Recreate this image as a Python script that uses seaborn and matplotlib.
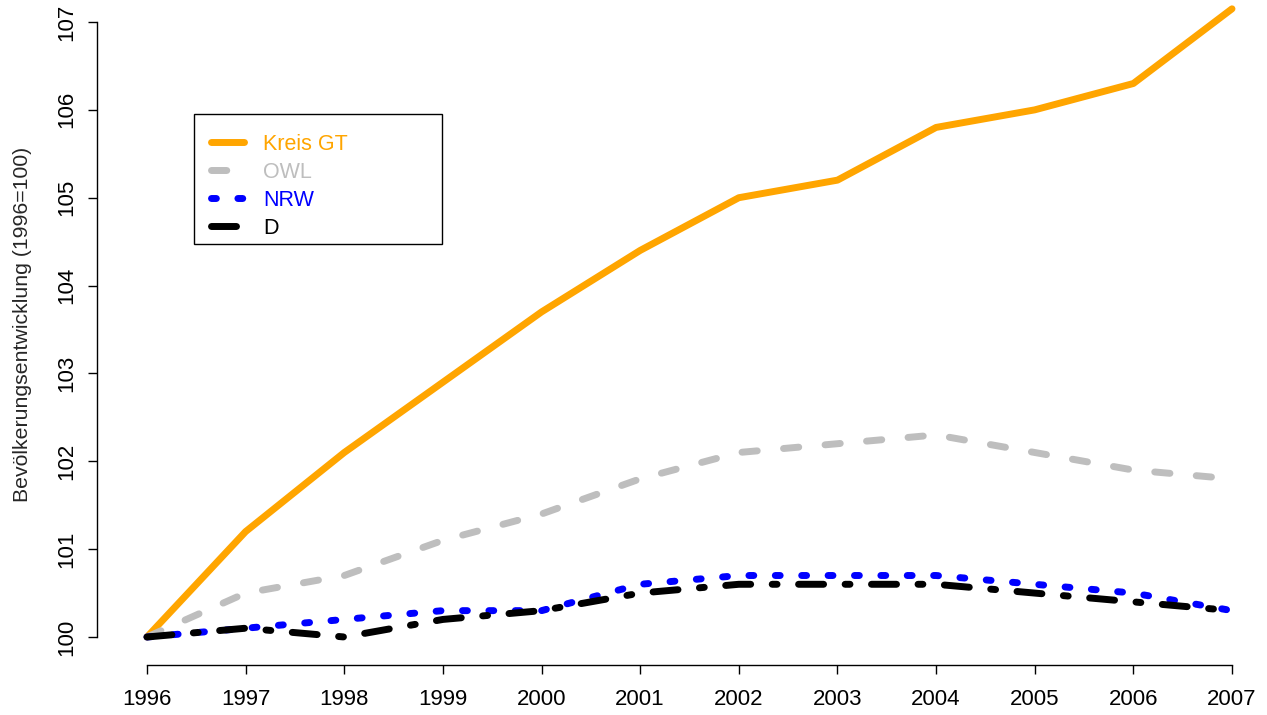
import matplotlib
matplotlib.use("Agg")
import matplotlib.pyplot as plt
from matplotlib.patches import Rectangle
import seaborn as sns
import pandas as pd

years = [1996, 1997, 1998, 1999, 2000, 2001, 2002, 2003, 2004, 2005, 2006, 2007]
kreis_gt = [100.0, 101.2, 102.1, 102.9, 103.7, 104.4, 105.0, 105.2, 105.8, 106.0, 106.3, 107.15]
owl = [100.0, 100.5, 100.7, 101.1, 101.4, 101.8, 102.1, 102.2, 102.3, 102.1, 101.9, 101.8]
nrw = [100.0, 100.1, 100.2, 100.3, 100.3, 100.6, 100.7, 100.7, 100.7, 100.6, 100.5, 100.3]
d = [100.0, 100.1, 100.0, 100.2, 100.3, 100.5, 100.6, 100.6, 100.6, 100.5, 100.4, 100.3]
series_names = ["Kreis GT", "OWL", "NRW", "D"]
y_ticks = [100, 101, 102, 103, 104, 105, 106, 107]
y_label = "Bevölkerungsentwicklung (1996=100)"

colors = {"Kreis GT": "#FFA500", "OWL": "#BEBEBE", "NRW": "#0000FF", "D": "#000000"}
dash_styles = {"Kreis GT": None, "OWL": (2.2, 3.8), "NRW": (0.7, 3.1), "D": (3.6, 3.1, 0.7, 3.1)}

sns.set_style("white")
plt.rcParams["font.family"] = ["Liberation Sans", "DejaVu Sans"]

W, H = 1267, 715
fig = plt.figure(figsize=(W / 100, H / 100), dpi=100)

# axes pixel box
ax_l, ax_r, ax_b, ax_t = 97, 1262, 665, 5
ax = fig.add_axes([ax_l / W, 1 - ax_b / H, (ax_r - ax_l) / W, (ax_b - ax_t) / H])

px_per_year = (1232 - 147) / 11
px_per_unit = (637 - 22) / 7
ax.set_xlim(1996 - (147 - ax_l) / px_per_year, 2007 + (ax_r - 1232) / px_per_year)
ax.set_ylim(100 - (ax_b - 637) / px_per_unit, 107 + (22 - ax_t) / px_per_unit)

data = {"Kreis GT": kreis_gt, "OWL": owl, "NRW": nrw, "D": d}
lw = 5.0
for name in series_names:
    df = pd.DataFrame({"year": years, "value": data[name]})
    sns.lineplot(data=df, x="year", y="value", color=colors[name], lw=lw, ax=ax,
                 label=name, legend=False)
    line = ax.lines[-1]
    line.set_clip_on(False)
    line.set_solid_capstyle("round")
    line.set_dash_capstyle("round")
    line.set_solid_joinstyle("round")
    if dash_styles[name] is not None:
        line.set_dashes(dash_styles[name])

for s in ["top", "right"]:
    ax.spines[s].set_visible(False)
ax.spines["left"].set_bounds(100, 107)
ax.spines["bottom"].set_bounds(1996, 2007)
for s in ["left", "bottom"]:
    ax.spines[s].set_linewidth(1.0)
    ax.spines[s].set_color("black")

ax.set_xticks(years)
ax.set_xticklabels([str(y) for y in years])
ax.set_yticks(y_ticks)
ax.set_yticklabels([str(y) for y in y_ticks], rotation=90, va="center")
ax.tick_params(axis="both", direction="out", length=6.5, width=1.0, color="black",
               labelsize=16, labelcolor="black", bottom=True, left=True)
ax.tick_params(axis="x", pad=11)
ax.tick_params(axis="y", pad=8)
ax.set_xlabel("")
ax.set_ylabel("")
fig.text(23 / W, 1 - 324 / H, y_label, rotation=90, ha="center", va="center", fontsize=15.3)

# legend frame (R style)
frame = Rectangle((194 / W, 1 - 244 / H), (442 - 194) / W, (244 - 114) / H,
                  transform=fig.transFigure, facecolor="white",
                  edgecolor="black", linewidth=1.0, zorder=5, clip_on=False)
ax.add_patch(frame)
handles = ax.lines[:4]
leg = ax.legend(handles, series_names, loc="upper left",
                bbox_to_anchor=(211 / W, 1 - 134 / H),
                bbox_transform=fig.transFigure,
                frameon=False, fontsize=15.5, handlelength=1.55, handletextpad=0.88,
                borderpad=0, labelspacing=0.32, borderaxespad=0,
                labelcolor=[colors[n] for n in series_names])
leg.set_zorder(6)

fig.savefig("out.png", dpi=100, facecolor="white")
